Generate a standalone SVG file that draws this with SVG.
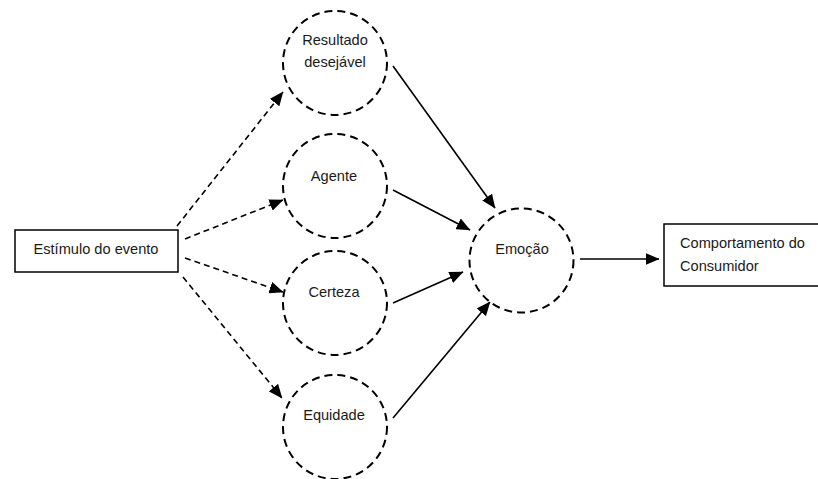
<svg xmlns="http://www.w3.org/2000/svg" width="818" height="479" viewBox="0 0 818 479">
<style>
.t{font-family:"Liberation Sans",Arial,sans-serif;font-size:14.6px;fill:#1a1a1a}
.c{fill:#fff;stroke:#000;stroke-width:2;stroke-dasharray:8,5}
.b{fill:#fff;stroke:#000;stroke-width:1.5}
.d{stroke:#000;stroke-width:1.6;stroke-dasharray:6,4;fill:none}
.s{stroke:#000;stroke-width:1.6;fill:none}
</style>
<defs>
<marker id="ahs" viewBox="0 0 14 12" refX="13.5" refY="6" markerWidth="14" markerHeight="12" orient="auto" markerUnits="userSpaceOnUse">
<path d="M0,0 L14,6 L0,12 z" fill="#000"/>
</marker>
</defs>
<rect width="818" height="479" fill="#fff"/>
<g id="connectors">
<line class="d" x1="177" y1="226" x2="283" y2="92" marker-end="url(#ahs)"/>
<line class="d" x1="185" y1="239" x2="283" y2="200" marker-end="url(#ahs)"/>
<line class="d" x1="185" y1="258" x2="283" y2="292" marker-end="url(#ahs)"/>
<line class="d" x1="183" y1="277" x2="282" y2="398" marker-end="url(#ahs)"/>
<line class="s" x1="393" y1="66" x2="495" y2="208" marker-end="url(#ahs)"/>
<line class="s" x1="393" y1="190" x2="470" y2="230" marker-end="url(#ahs)"/>
<line class="s" x1="393" y1="303" x2="463" y2="272" marker-end="url(#ahs)"/>
<line class="s" x1="393" y1="418" x2="490" y2="302" marker-end="url(#ahs)"/>
<line class="s" x1="580" y1="259" x2="659" y2="259" marker-end="url(#ahs)"/>
</g>
<g id="estimulo">
<rect class="b" x="15" y="230" width="163" height="42"/>
<text class="t" x="96" y="254" text-anchor="middle">Estímulo do evento</text>
</g>
<g id="resultado">
<circle class="c" cx="335" cy="63" r="52"/>
<text class="t" x="335" y="45" text-anchor="middle">Resultado</text>
<text class="t" x="335" y="67" text-anchor="middle">desejável</text>
</g>
<g id="agente">
<circle class="c" cx="335" cy="186" r="52"/>
<text class="t" x="334" y="181" text-anchor="middle">Agente</text>
</g>
<g id="certeza">
<circle class="c" cx="335" cy="303" r="52"/>
<text class="t" x="334" y="297" text-anchor="middle">Certeza</text>
</g>
<g id="equidade">
<circle class="c" cx="335" cy="427" r="52"/>
<text class="t" x="334" y="420" text-anchor="middle">Equidade</text>
</g>
<g id="emocao">
<circle class="c" cx="521.5" cy="260.5" r="52"/>
<text class="t" x="522" y="254" text-anchor="middle">Emoção</text>
</g>
<g id="comportamento">
<rect class="b" x="664" y="224" width="160" height="62"/>
<text class="t" x="680" y="248">Comportamento do</text>
<text class="t" x="680" y="271">Consumidor</text>
</g>
</svg>
